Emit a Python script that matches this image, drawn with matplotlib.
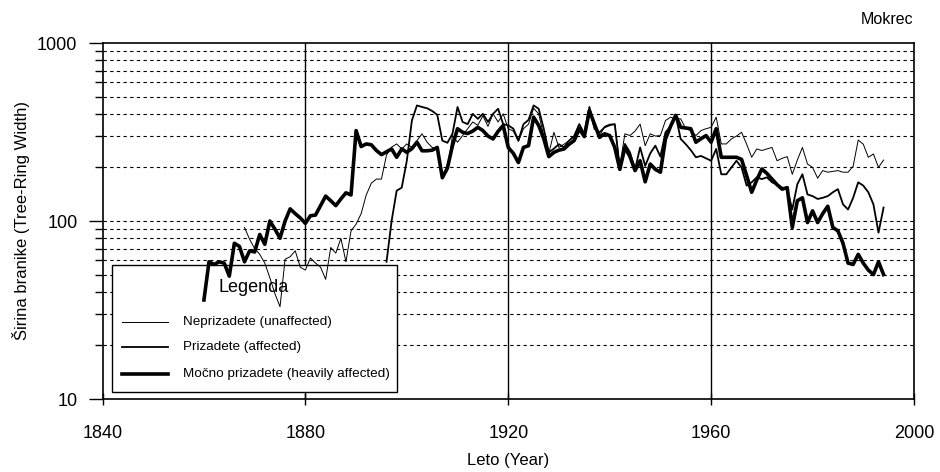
import matplotlib
matplotlib.use("Agg")
import matplotlib.pyplot as plt
from matplotlib.patches import Rectangle
from matplotlib.lines import Line2D
from matplotlib.ticker import FixedLocator, NullFormatter

plt.rcParams['font.family'] = ['Liberation Sans', 'DejaVu Sans']

# ---------------- data ----------------
heavy_start = 1860
heavy = [36, 59, 57, 59, 58, 49, 75, 72, 59, 68,
         67, 84, 74, 100, 90, 80, 100, 117, 110, 104,
         97, 107, 108, 122, 138, 130, 122, 133, 144, 140,
         322, 262, 271, 268, 249, 236, 245, 254, 228, 254,
         243, 255, 277, 248, 248, 250, 259, 175, 198, 265,
         330, 315, 310, 320, 336, 322, 300, 289, 319, 344,
         259, 240, 213, 259, 265, 383, 344, 290, 230, 243,
         250, 254, 270, 283, 330, 298, 417, 350, 295, 309,
         302, 259, 195, 259, 230, 192, 218, 166, 209, 195,
         188, 289, 340, 392, 336, 333, 330, 277, 290, 302,
         277, 330, 228, 228, 228, 228, 222, 180, 145, 170,
         196, 185, 172, 160, 151, 154, 92, 130, 135, 98,
         114, 98, 110, 121, 92, 88, 75, 58, 57, 65,
         58, 53, 50, 59, 50]

affected_start = 1896
affected = [59, 100, 148, 154,
            218, 367, 446, 437, 430, 415, 395, 283, 275, 309,
            437, 360, 350, 400, 375, 400, 360, 400, 427, 350,
            345, 330, 283, 350, 370, 446, 427, 330, 243, 255,
            270, 259, 283, 300, 350, 309, 437, 330, 315, 336,
            345, 350, 198, 271, 243, 195, 259, 204, 240, 265,
            230, 315, 340, 392, 289, 270, 250, 228, 232, 225,
            218, 254, 183, 183, 200, 218, 200, 158, 165, 176,
            172, 176, 165, 160, 154, 151, 116, 161, 183, 141,
            138, 133, 135, 138, 145, 151, 124, 116, 135, 165,
            158, 145, 124, 86, 119]

unaffected_start = 1868
unaffected = [92, 79,
              70, 65, 58, 48, 39, 33, 61, 63, 68, 55,
              53, 62, 58, 55, 47, 71, 66, 80, 59, 88,
              96, 110, 140, 163, 172, 172, 235, 260, 271, 254,
              271, 259, 283, 309, 277, 259, 254, 178, 192, 302,
              277, 302, 330, 360, 345, 390, 340, 400, 360, 400,
              330, 320, 280, 330, 350, 430, 400, 300, 240, 315,
              259, 270, 283, 300, 350, 309, 420, 340, 300, 340,
              350, 350, 204, 309, 302, 320, 350, 265, 309, 300,
              302, 367, 383, 375, 375, 330, 322, 302, 322, 330,
              336, 383, 271, 271, 289, 300, 315, 270, 228, 254,
              249, 254, 259, 218, 225, 230, 183, 220, 259, 209,
              200, 174, 192, 188, 190, 192, 188, 188, 203, 285,
              270, 228, 238, 200, 220]

x_ticks = [1840, 1880, 1920, 1960, 2000]
x_ticklabels = ["1840", "1880", "1920", "1960", "2000"]
y_ticks = [10, 100, 1000]
y_ticklabels = ["10", "100", "1000"]
grid_years = [1880, 1920, 1960]
grid_values = [20, 30, 40, 50, 60, 70, 80, 90, 100,
               200, 300, 400, 500, 600, 700, 800, 900]
legend_title = "Legenda"
legend_labels = ["Neprizadete (unaffected)", "Prizadete (affected)",
                 "Močno prizadete (heavily affected)"]
site = "Mokrec"

# ---------------- figure ----------------
W, H = 940, 472
fig = plt.figure(figsize=(W / 100, H / 100), dpi=100)
ax_l, ax_r, ax_t, ax_b = 102.5, 914, 43, 399
ax = fig.add_axes([ax_l / W, 1 - ax_b / H, (ax_r - ax_l) / W, (ax_b - ax_t) / H])
ax.set_yscale('log')
ax.set_xlim(1840, 2000)
ax.set_ylim(10, 1000)

for v in grid_values:
    ax.axhline(v, color='black', lw=0.8, ls=(0, (3, 3)), zorder=0.5)
for yr in grid_years:
    ax.axvline(yr, color='black', lw=1.0, zorder=0.6)

# legend box (white, hides grid, lines drawn over)
bx0 = (112 - ax_l) / (ax_r - ax_l)
bx1 = (397 - ax_l) / (ax_r - ax_l)
by0 = (ax_b - 392) / (ax_b - ax_t)
by1 = (ax_b - 265) / (ax_b - ax_t)
ax.add_patch(Rectangle((bx0, by0), bx1 - bx0, by1 - by0, transform=ax.transAxes,
                       facecolor='white', edgecolor='black', lw=1.0, zorder=1))

def years(start, vals):
    return list(range(start, start + len(vals)))

ax.plot(years(unaffected_start, unaffected), unaffected, color='black', lw=0.7, zorder=3)
ax.plot(years(affected_start, affected), affected, color='black', lw=1.3, zorder=3)
ax.plot(years(heavy_start, heavy), heavy, color='black', lw=2.6, zorder=3)

# legend contents in pixel-based figure coords
def fx(px):
    return px / W

def fy(py):
    return 1 - py / H

fig.text(fx(254), fy(288), legend_title, ha='center', va='center', fontsize=13, zorder=5)
widths = [0.7, 1.3, 2.6]
ys = [322, 347, 374]
for lbl, lw_, yy in zip(legend_labels, widths, ys):
    fig.add_artist(Line2D([fx(122), fx(168)], [fy(yy), fy(yy)], color='black', lw=lw_))
    fig.text(fx(183), fy(yy), lbl, ha='left', va='center', fontsize=9.7)

fig.text(fx(913), fy(20), site, ha='right', va='center', fontsize=11.5)

# ticks
ax.xaxis.set_major_locator(FixedLocator(x_ticks))
ax.set_xticklabels(x_ticklabels)
ax.yaxis.set_major_locator(FixedLocator(y_ticks))
ax.set_yticklabels(y_ticklabels)
ax.yaxis.set_minor_locator(FixedLocator(grid_values))
ax.yaxis.set_minor_formatter(NullFormatter())
ax.tick_params(axis='x', which='major', direction='inout', length=8, width=1.0,
               labelsize=13, pad=15)
ax.tick_params(axis='y', which='major', direction='out', length=10, width=1.0,
               labelsize=13, pad=8)
ax.tick_params(axis='y', which='minor', direction='out', length=5.5, width=1.0)
for s in ax.spines.values():
    s.set_linewidth(1.2)

ax.set_xlabel("Leto (Year)", fontsize=12)
ax.xaxis.label.set_va('center')
ax.xaxis.set_label_coords(0.5, -(461 - ax_b) / (ax_b - ax_t))
ax.set_ylabel("Širina branike (Tree-Ring Width)", fontsize=12, labelpad=5)

fig.savefig("out.png", dpi=100)
